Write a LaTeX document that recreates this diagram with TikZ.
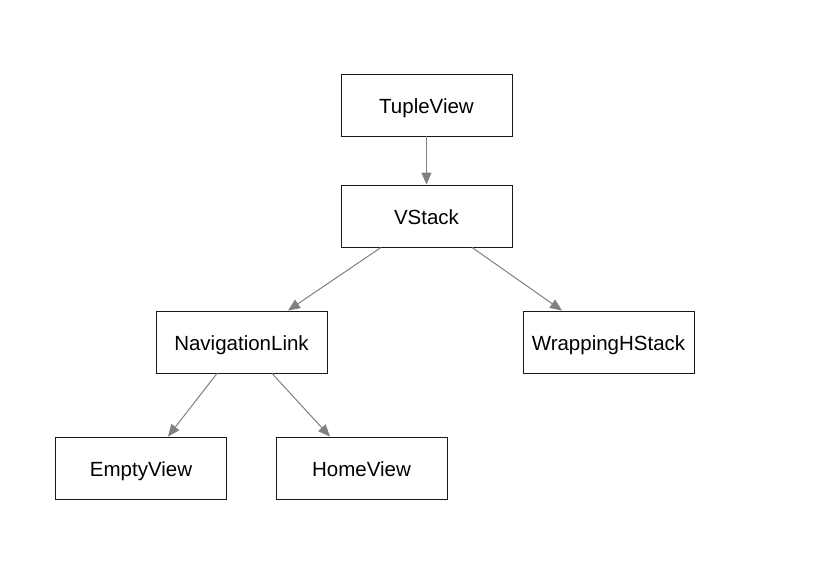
\documentclass[tikz,border=0pt]{standalone}
\usepackage{fontspec}
\setmainfont{Liberation Sans}
\usetikzlibrary{arrows.meta}
\begin{document}
\begin{tikzpicture}[x=1pt,y=-1pt,
  box/.style={draw=black!90,line width=0.9pt,minimum width=171pt,minimum height=62pt,inner sep=0pt,text height=17pt,text depth=0pt,font=\fontsize{20.5}{24}\selectfont},
  conn/.style={draw=black!50,line width=1pt,-{Triangle[length=12pt,width=10pt]}}]
\useasboundingbox (0,0) rectangle (828,578);
\node[box] (tv) at (426.5,105) {TupleView};
\node[box] (vs) at (426.5,216) {VStack};
\node[box] (nl) at (241.5,342) {NavigationLink};
\node[box] (wh) at (608.5,342) {WrappingHStack};
\node[box] (ev) at (141,468) {EmptyView};
\node[box] (hv) at (361.5,468) {HomeView};
\draw[conn] (tv.south) -- (vs.north);
\draw[conn] ([xshift=-45.5pt]vs.south) -- ([xshift=46.5pt]nl.north);
\draw[conn] ([xshift=45.5pt]vs.south) -- ([xshift=-46.5pt]wh.north);
\draw[conn] ([xshift=-24.5pt]nl.south) -- ([xshift=27pt]ev.north);
\draw[conn] ([xshift=30.5pt]nl.south) -- ([xshift=-31.5pt]hv.north);
\end{tikzpicture}
\end{document}
